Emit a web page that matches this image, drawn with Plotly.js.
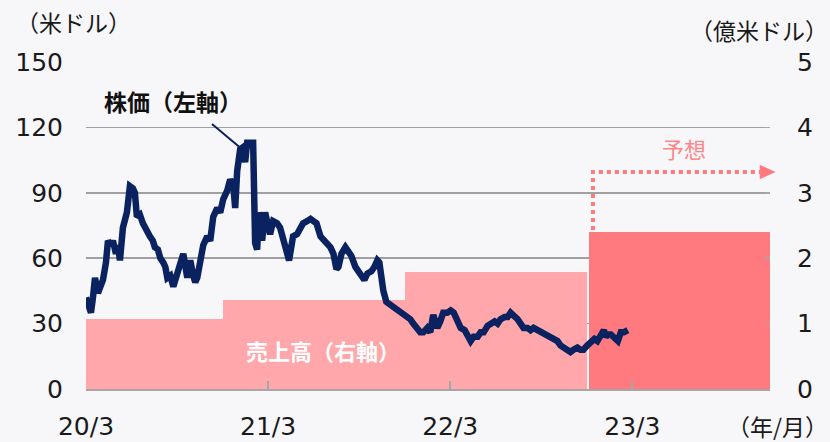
<!DOCTYPE html>
<html>
<head>
<meta charset="utf-8">
<script src="https://cdn.plot.ly/plotly-3.0.1.min.js"></script>
<style>
html,body{margin:0;padding:0;background:#f7f7f9;}
#chart{width:830px;height:442px;}
</style>
</head>
<body>
<div id="chart"></div>
<script>
// Stock price (USD, left axis)
const priceDates = [
'2020-03-01','2020-03-05','2020-03-11','2020-03-15','2020-03-19','2020-03-25','2020-03-31','2020-04-04','2020-04-10','2020-04-14',
'2020-04-20','2020-04-24','2020-04-30','2020-05-04','2020-05-08','2020-05-14','2020-05-22','2020-05-28','2020-06-03','2020-06-07',
'2020-06-11','2020-06-17','2020-06-23','2020-06-29','2020-07-07','2020-07-13','2020-07-17','2020-07-23','2020-07-28','2020-08-03',
'2020-08-07','2020-08-11','2020-08-17','2020-08-23','2020-08-31','2020-09-06','2020-09-12','2020-09-20','2020-09-26','2020-10-02',
'2020-10-06','2020-10-10','2020-10-16','2020-10-22','2020-10-30','2020-11-05','2020-11-11','2020-11-19','2020-11-25','2020-12-01',
'2020-12-09','2020-12-15','2020-12-21','2020-12-25','2020-12-29','2021-01-04','2021-01-10','2021-01-14','2021-01-18','2021-01-24',
'2021-01-30','2021-02-03','2021-02-07','2021-02-11','2021-02-15','2021-02-17','2021-02-23','2021-02-27','2021-03-05','2021-03-11',
'2021-03-19','2021-03-25','2021-03-31','2021-04-06','2021-04-12','2021-04-16','2021-04-20','2021-04-28','2021-05-04','2021-05-10',
'2021-05-18','2021-05-25','2021-05-31','2021-06-06','2021-06-14','2021-06-22','2021-06-28','2021-07-04','2021-07-10','2021-07-16',
'2021-07-20','2021-07-26','2021-08-03','2021-08-09','2021-08-15','2021-08-23','2021-08-29','2021-09-04','2021-09-10','2021-09-16',
'2021-09-24','2021-09-30','2021-10-06','2021-10-10','2021-10-14','2021-10-18','2021-10-24','2021-10-30','2021-11-05','2021-11-13',
'2021-11-21','2021-11-29','2021-12-05','2021-12-11','2021-12-17','2021-12-25','2021-12-31','2022-01-06','2022-01-14','2022-01-20',
'2022-01-26','2022-01-30','2022-02-03','2022-02-09','2022-02-15','2022-02-23','2022-03-02','2022-03-08','2022-03-16','2022-03-22',
'2022-03-30','2022-04-05','2022-04-11','2022-04-17','2022-04-25','2022-05-01','2022-05-07','2022-05-15','2022-05-21','2022-05-29',
'2022-06-04','2022-06-10','2022-06-18','2022-06-24','2022-06-30','2022-07-06','2022-07-14','2022-07-20','2022-07-26','2022-08-03',
'2022-08-09','2022-08-15','2022-08-23','2022-08-29','2022-09-04','2022-09-12','2022-09-18','2022-09-24','2022-10-02','2022-10-08',
'2022-10-14','2022-10-22','2022-10-28','2022-11-03','2022-11-11','2022-11-17','2022-11-23','2022-12-01','2022-12-07','2022-12-15',
'2022-12-21','2022-12-28','2023-01-03','2023-01-07','2023-01-11','2023-01-17','2023-01-23','2023-01-31','2023-02-06','2023-02-12',
'2023-02-20'
];
const priceValues = [
42,38,35,42,51,44,48,50,58,68,
66,68,62,66,59,74,81,93,92,90,
79,80,76,73,70,68,65,64,60,58,
56,51,52,47,53,56,62,51,59,52,
49,51,58,66,70,68,79,83,81,87,
91,96,94,83,100,110,111,104,113,113,
113,67,64,81,77,68,81,77,71,77,
76,74,70,64,59,65,70,71,74,76,
77,78,77,76,70,68,67,65,62,55,
56,62,65,63,61,56,54,52,50,53,
54,56,59,58,51,45,40,39,38,37,
36,34,33,32,30,27,26,26,28,26,
34,31,28,31,35,35,36,35,31,28,
27,25,22,24,24,26,26,29,30,31,
30,32,33,33,35,34,32,30,28,28,
27,28,27,26,26,25,24,23,22,20,
19,18,17,18,19,18,18,20,21,23,
22,25,27,24,25,25,24,22,26,26,
27
];

// Revenue (100 million USD, right axis)
const periodStart = ['2020-03-01','2020-12-01','2021-12-01','2022-12-04'];
const periodEnd   = ['2020-12-01','2021-12-01','2022-12-01','2023-12-02'];
const revenue     = [1.07, 1.36, 1.79, 2.40];
const isForecast  = [false, false, false, true];

const xTickVals = ['2020-03-01','2021-03-01','2022-03-01','2023-03-01'];
const xTickText = ['20/3','21/3','22/3','23/3'];
const leftTicks = [0,30,60,90,120,150];
const rightTicks = [0,1,2,3,4,5];

const FONT = 'DejaVu Sans, Noto Sans CJK JP, sans-serif';
const JFONT = 'Noto Sans CJK JP, sans-serif';
const NAVY = '#0a2260';
const PINK = '#ffa7aa';
const PINK_DARK = '#ff7a7f';
const TICKFONT = {family: FONT, size: 25, color: '#1a1a1a'};

const barTrace = {
  type: 'bar',
  x: periodStart,
  y: revenue,
  width: periodStart.map((s, i) => Date.parse(periodEnd[i]) - Date.parse(s)),
  offset: 0,
  marker: {color: isForecast.map(f => f ? PINK_DARK : PINK), line: {width: 0}},
  yaxis: 'y',
  hoverinfo: 'skip',
  showlegend: false
};

const lineTrace = {
  type: 'scatter',
  mode: 'lines',
  x: priceDates,
  y: priceValues,
  line: {color: NAVY, width: 6.5},
  yaxis: 'y2',
  showlegend: false
};

const layout = {
  width: 830, height: 442,
  margin: {l: 86, r: 60, t: 62, b: 53},
  paper_bgcolor: '#f7f7f9',
  plot_bgcolor: '#f7f7f9',
  font: {family: FONT, size: 25, color: '#1a1a1a'},
  bargap: 0,
  xaxis: {
    type: 'date',
    range: ['2020-03-01', '2023-12-02'],
    tickvals: xTickVals,
    ticktext: xTickText,
    ticks: 'inside',
    ticklen: 8,
    tickwidth: 2,
    tickcolor: '#a6a6a6',
    showline: true,
    linecolor: '#a6a6a6',
    linewidth: 2,
    showgrid: false,
    zeroline: false,
    ticklabelstandoff: 14,
    tickfont: TICKFONT
  },
  yaxis: {
    side: 'right',
    range: [0, 5],
    tickvals: rightTicks,
    ticks: 'inside',
    ticklen: 5,
    tickwidth: 1.5,
    tickcolor: '#a6a6a6',
    showgrid: true,
    gridcolor: '#a0a0a0',
    gridwidth: 1.5,
    zeroline: false,
    showline: false,
    ticklabelstandoff: 26,
    tickfont: TICKFONT
  },
  yaxis2: {
    overlaying: 'y',
    side: 'left',
    range: [0, 150],
    tickvals: leftTicks,
    showgrid: false,
    zeroline: false,
    showline: false,
    ticks: '',
    ticklabelstandoff: 22,
    tickfont: TICKFONT
  },
  shapes: [
    // leader line for price label
    {type: 'line', xref: 'paper', yref: 'paper', x0: 0.1842, y0: 0.8104, x1: 0.2295, y1: 0.7309,
     line: {color: NAVY, width: 2}},
    // forecast dotted arrow
    {type: 'path', xref: 'paper', yref: 'paper',
     path: 'M 0.7412 0.486 L 0.7412 0.6636 L 0.987 0.6636',
     line: {color: PINK_DARK, width: 4, dash: 'dot'}},
    {type: 'path', xref: 'paper', yref: 'paper',
     path: 'M 0.985 0.6856 L 1.008 0.6636 L 0.985 0.6416 Z',
     fillcolor: PINK_DARK, line: {width: 0}}
  ],
  annotations: [
    {text: '（米ドル）', xref: 'paper', yref: 'paper', x: -0.019, y: 1.122, xanchor: 'center', yanchor: 'middle',
     showarrow: false, font: {family: JFONT, size: 23, color: '#1a1a1a'}},
    {text: '（億米ドル）', xref: 'paper', yref: 'paper', x: 1.087, y: 1.098, xanchor: 'right', yanchor: 'middle',
     showarrow: false, font: {family: JFONT, size: 23, color: '#1a1a1a'}},
    {text: '（年/月）', xref: 'paper', yref: 'paper', x: 1.087, y: -0.113, xanchor: 'right', yanchor: 'middle',
     showarrow: false, font: {family: JFONT, size: 23, color: '#1a1a1a'}},
    {text: '<b>株価（左軸）</b>', xref: 'paper', yref: 'paper', x: 0.127, y: 0.881, xanchor: 'center', yanchor: 'middle',
     showarrow: false, font: {family: JFONT, size: 23, color: '#111111'}},
    {text: '<b>売上高（右軸）</b>', xref: 'paper', yref: 'paper', x: 0.347, y: 0.119, xanchor: 'center', yanchor: 'middle',
     showarrow: false, font: {family: JFONT, size: 22, color: '#ffffff'}},
    {text: '予想', xref: 'paper', yref: 'paper', x: 0.874, y: 0.737, xanchor: 'center', yanchor: 'middle',
     showarrow: false, font: {family: JFONT, size: 22, color: '#ff8589'}}
  ]
};

Plotly.newPlot('chart', [barTrace, lineTrace], layout, {displayModeBar: false, staticPlot: true});
</script>
</body>
</html>
